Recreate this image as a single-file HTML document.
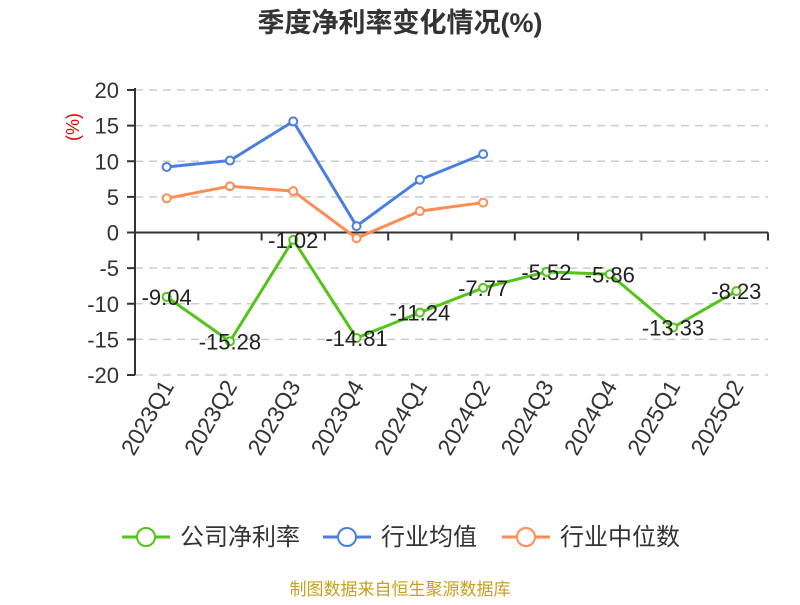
<!DOCTYPE html>
<html><head><meta charset="utf-8"><style>
body{margin:0;background:#fff;}
svg{font-family:"Liberation Sans","Noto Sans CJK SC",sans-serif;}
</style></head><body>
<svg id="c" width="800" height="600">
<text x="400" y="32" text-anchor="middle" font-size="27" font-weight="bold" fill="#333">季度净利率变化情况(%)</text>
<text transform="translate(79,127) rotate(-90)" text-anchor="middle" font-size="18" fill="#e00">(%)</text>
<g id="grid"></g><g id="axes"></g><g id="series"></g>
<g>
<g><line x1="122" y1="537" x2="170" y2="537" stroke="#52c41a" stroke-width="3"/><circle cx="146" cy="537" r="9" fill="#fff" stroke="#52c41a" stroke-width="2"/><text x="180" y="545" font-size="24" fill="#333">公司净利率</text></g>
<g><line x1="323" y1="537" x2="371" y2="537" stroke="#4a7fe0" stroke-width="3"/><circle cx="347" cy="537" r="9" fill="#fff" stroke="#4a7fe0" stroke-width="2"/><text x="381" y="545" font-size="24" fill="#333">行业均值</text></g>
<g><line x1="502" y1="537" x2="550" y2="537" stroke="#ff8c55" stroke-width="3"/><circle cx="526" cy="537" r="9" fill="#fff" stroke="#ff8c55" stroke-width="2"/><text x="560" y="545" font-size="24" fill="#333">行业中位数</text></g>
</g>
<text x="400" y="595" text-anchor="middle" font-size="17" fill="#c8a020">制图数据来自恒生聚源数据库</text>
</svg>
<script>
const categories=["2023Q1","2023Q2","2023Q3","2023Q4","2024Q1","2024Q2","2024Q3","2024Q4","2025Q1","2025Q2"];
const company=[-9.04,-15.28,-1.02,-14.81,-11.24,-7.77,-5.52,-5.86,-13.33,-8.23];
const industryAvg=[9.2,10.1,15.6,0.9,7.4,11.0];
const industryMedian=[4.8,6.5,5.8,-0.8,3.0,4.2];
const yTicks=[20,15,10,5,0,-5,-10,-15,-20];
const NS="http://www.w3.org/2000/svg";
const X0=135,X1=768,Y20=90,Ym20=375;
const bw=(X1-X0)/categories.length;
const x=i=>X0+bw*(i+0.5);
const y=v=>Y20+(20-v)*(Ym20-Y20)/40;
function mk(tag,attrs,parent){const e=document.createElementNS(NS,tag);for(const k in attrs)e.setAttribute(k,attrs[k]);parent.appendChild(e);return e;}
const grid=document.getElementById('grid'),axes=document.getElementById('axes'),ser=document.getElementById('series');
yTicks.forEach(t=>{
  if(t!==0){const g=mk('line',{x1:X0,x2:X1,y1:y(t),y2:y(t),stroke:'#ccc','stroke-dasharray':'8,6','stroke-width':1.5},grid);
  
  }
  const tk=mk('line',{x1:X0-8,x2:X0,y1:y(t),y2:y(t),stroke:'#333','stroke-width':2},axes);
  
  
  const tx=mk('text',{x:X0-16,y:y(t)+8,'text-anchor':'end','font-size':22,fill:'#333'},axes);
  tx.textContent=t;
  
  
});
const ya=mk('line',{x1:X0,x2:X0,y1:Y20-2,y2:Ym20,stroke:'#333','stroke-width':2},axes);


const xa=mk('line',{x1:X0,x2:X1,y1:y(0),y2:y(0),stroke:'#333','stroke-width':2},axes);


for(let i=1;i<=categories.length;i++){const tk=mk('line',{x1:X0+bw*i,x2:X0+bw*i,y1:y(0),y2:y(0)+8,stroke:'#333','stroke-width':2},axes);

}
categories.forEach((c,i)=>{
  const t=mk('text',{transform:`translate(${x(i)+8},${386}) rotate(-60)`,'text-anchor':'end','font-size':23,fill:'#333'},axes);
  t.textContent=c;
  
  
});
function series(data,color,name,labels){
  const g=mk('g',{},ser);
  
  
  const p=mk('polyline',{points:data.map((v,i)=>x(i)+','+y(v)).join(' '),fill:'none',stroke:color,'stroke-width':3,'stroke-linejoin':'round'},g);
  
  
  data.forEach((v,i)=>{
    const c=mk('circle',{cx:x(i),cy:y(v),r:4,fill:'#fff',stroke:color,'stroke-width':2},g);
    
    
    if(labels){const t=mk('text',{x:x(i),y:y(v)+8,'text-anchor':'middle','font-size':22,fill:'#222'},g);
      t.textContent=v;
      
      }
  });
}
series(industryAvg,'#4a7fe0','industry-avg-series',false);
series(industryMedian,'#ff8c55','industry-median-series',false);
series(company,'#52c41a','company-series',true);
</script>
</body></html>
